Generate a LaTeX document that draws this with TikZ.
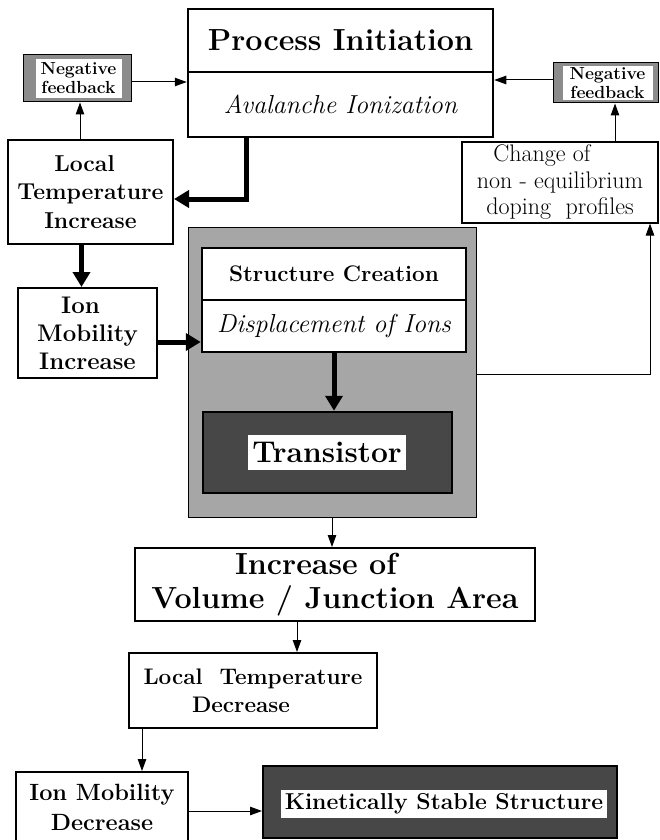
\documentclass[tikz,border=0pt]{standalone}
\usetikzlibrary{arrows.meta}
\begin{document}
\begin{tikzpicture}[x=1pt,y=-1pt,
  box/.style={draw, line width=2pt, fill=white, inner sep=0pt, align=center},
  nfframe/.style={draw, line width=1pt, fill=black!45, inner sep=0pt},
  nflabel/.style={fill=white, inner sep=0pt, align=center, font=\fontsize{17.5}{19}\bfseries\selectfont},
  darkbox/.style={draw, line width=2.5pt, fill=black!72, inner sep=0pt},
  whitelabel/.style={fill=white, inner sep=0pt, align=center},
  tarrow/.style={line width=1pt, -{Triangle[length=12pt,width=8.5pt]}},
  barrow/.style={line width=5pt, line join=miter, -{Triangle[length=15pt,width=17pt]}}
]
\useasboundingbox (0,0) rectangle (659,840);
\fill[white] (0,0) rectangle (659,840);

% Process initiation
\node[box, line width=2.5pt, minimum width=305pt, minimum height=63pt,
      font=\fontsize{30.5}{34}\bfseries\selectfont] (pt) at (340.5,40.5) {Process Initiation};
\node[box, line width=2.5pt, minimum width=305pt, minimum height=65pt,
      font=\fontsize{26}{30}\itshape\selectfont] (pb) at (340.5,104.5) {Avalanche Ionization};

% negative feedback boxes
\node[nfframe, minimum width=108pt, minimum height=47pt] (nfL) at (77,78.5) {};
\node[nflabel, minimum width=86pt, minimum height=39pt] (nfLt) at (78.5,78.5) {Negative\\feedback};
\node[nfframe, minimum width=105pt, minimum height=40pt] (nfR) at (605.5,83) {};
\node[nflabel, minimum width=90pt, minimum height=34pt] (nfRt) at (607.5,83) {Negative\\feedback};

% local temperature increase
\node[box, minimum width=165pt, minimum height=104pt,
      font=\fontsize{23}{28.5}\bfseries\selectfont] (lti) at (90.5,192) {Local\kern12pt\\Temperature\\Increase};

% change of doping profiles
\node[box, line width=1.2pt, minimum width=196pt, minimum height=81pt,
      font=\fontsize{24}{26.5}\selectfont] (ch) at (560,182.5) {Change of\kern36pt\\non - equilibrium\\doping\ \ profiles};

% ion mobility increase
\node[box, minimum width=139pt, minimum height=90pt,
      font=\fontsize{24}{28}\bfseries\selectfont] (imi) at (87.5,333) {Ion\kern14pt\\Mobility\\Increase};

% grey structure block
\node[draw, line width=1pt, fill=black!35, minimum width=288pt, minimum height=290pt, inner sep=0pt] (grey) at (332,372) {};
\node[box, line width=2.5pt, minimum width=264pt, minimum height=52pt,
      font=\fontsize{22.5}{26}\bfseries\selectfont] (st) at (334,274) {Structure Creation};
\node[box, line width=2.5pt, minimum width=264pt, minimum height=52pt,
      font=\fontsize{26}{30}\itshape\selectfont] (sb) at (334,326) {Displacement of Ions};
\node[darkbox, minimum width=249pt, minimum height=81pt] (tr) at (327.5,452.5) {};
\node[whitelabel, minimum width=158pt, minimum height=35pt,
      font=\fontsize{30}{34}\bfseries\selectfont] (trl) at (327,452.5) {Transistor};

% increase of volume
\node[box, minimum width=400pt, minimum height=73pt,
      font=\fontsize{30.5}{34}\bfseries\selectfont] (inc) at (335,584.5) {Increase of\kern38pt\\Volume / Junction Area};

% local temperature decrease
\node[box, minimum width=248pt, minimum height=75pt,
      font=\fontsize{22.5}{28}\bfseries\selectfont] (ltd) at (253,690.5) {Local\ \ Temperature\\Decrease\kern24pt};

% ion mobility decrease
\node[box, minimum width=172pt, minimum height=70pt,
      font=\fontsize{23.5}{30}\bfseries\selectfont] (imd) at (102,807) {Ion Mobility\\Decrease};

% kinetically stable structure
\node[darkbox, line width=2pt, minimum width=354pt, minimum height=72pt] (kin) at (440,802) {};
\node[whitelabel, minimum width=326pt, minimum height=28pt,
      font=\fontsize{23}{26}\bfseries\selectfont] (kinl) at (444,804) {Kinetically Stable Structure};

% connectors
\draw[tarrow] ([yshift=-3.5pt]nfL.east) -- ([yshift=-3.5pt]nfL.east -| pb.west);
\draw[tarrow] ([yshift=3pt]nfR.west) -- ([yshift=3pt]nfR.west -| pb.east);
\draw[tarrow] ([xshift=3pt]nfL.south |- lti.north) -- ([xshift=3pt]nfL.south);
\draw[barrow] ([xshift=60pt]pb.south west) |- ([yshift=-7pt]lti.east);
\draw[barrow] ([xshift=-6pt]imi.north |- lti.south) -- ([xshift=-6pt]imi.north);
\draw[barrow] ([yshift=-9pt]imi.east) -- ([yshift=-9pt]imi.east -| sb.west);
\draw[barrow] (sb.south) -- (sb.south |- tr.north);
\draw[tarrow] ([yshift=-2pt]grey.east) -| ([xshift=90pt]ch.south);
\draw[tarrow] ([xshift=9.5pt]nfR.south |- ch.north) -- ([xshift=9.5pt]nfR.south);
\draw[tarrow] (grey.south) -- (grey.south |- inc.north);
\draw[tarrow] ([xshift=-38pt]inc.south) -- ([xshift=-38pt]inc.south |- ltd.north);
\draw[tarrow] ([xshift=-111pt]ltd.south) -- ([xshift=-111pt]ltd.south |- imd.north);
\draw[tarrow] ([yshift=-4pt]imd.east) -- ([yshift=-4pt]imd.east -| kin.west);
\end{tikzpicture}
\end{document}
